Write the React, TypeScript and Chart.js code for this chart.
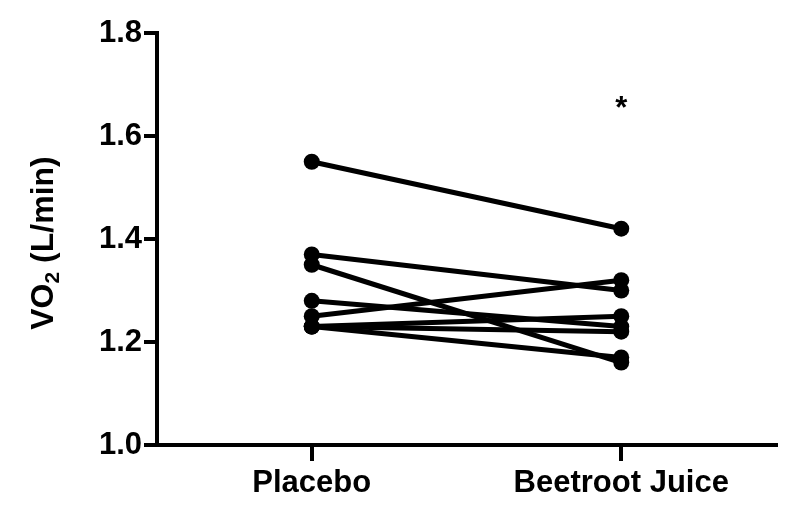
import React, { useEffect, useRef } from "react";
import { Chart, registerables } from "chart.js";

Chart.register(...registerables);

const categories = ["Placebo", "Beetroot Juice"];
const placebo = [1.55, 1.37, 1.35, 1.25, 1.28, 1.23, 1.23, 1.23];
const beetroot = [1.42, 1.3, 1.16, 1.32, 1.23, 1.25, 1.22, 1.17];
const yTicks = [1.0, 1.2, 1.4, 1.6, 1.8];
const significance = { category: "Beetroot Juice", value: 1.665, mark: "*" };
const yTitleMain = "VO";
const yTitleSub = "2";
const yTitleRest = " (L/min)";

const FONT = "'Liberation Sans', Arial, Helvetica, sans-serif";

export default function App() {
  const ref = useRef<HTMLCanvasElement | null>(null);

  useEffect(() => {
    const canvas = ref.current;
    if (!canvas) return;

    const overlay = {
      id: "overlay",
      afterDraw(chart: any) {
        const ctx = chart.ctx;
        const xs = chart.scales.x;
        const ys = chart.scales.y;
        // significance asterisk
        ctx.save();
        ctx.fillStyle = "#000";
        ctx.font = `bold 31px ${FONT}`;
        ctx.textAlign = "center";
        ctx.textBaseline = "middle";
        const idx = categories.indexOf(significance.category);
        ctx.fillText(
          significance.mark,
          xs.getPixelForValue(idx),
          ys.getPixelForValue(significance.value) + 7
        );
        ctx.restore();

        // y-axis title with subscript
        ctx.save();
        const cy = (ys.getPixelForValue(1.0) + ys.getPixelForValue(1.8)) / 2 + 4;
        ctx.translate(44, cy);
        ctx.rotate(-Math.PI / 2);
        ctx.fillStyle = "#000";
        ctx.textBaseline = "middle";
        ctx.textAlign = "left";
        const big = `bold 32px ${FONT}`;
        const small = `bold 21px ${FONT}`;
        ctx.font = big;
        const w1 = ctx.measureText(yTitleMain).width;
        const w3 = ctx.measureText(yTitleRest).width;
        ctx.font = small;
        const w2 = ctx.measureText(yTitleSub).width;
        const total = w1 + w2 + w3;
        let x = -total / 2;
        ctx.font = big;
        ctx.fillText(yTitleMain, x, 0);
        x += w1;
        ctx.font = small;
        ctx.fillText(yTitleSub, x, 9);
        x += w2;
        ctx.font = big;
        ctx.fillText(yTitleRest, x, 0);
        ctx.restore();
      },
    };

    const datasets = placebo.map((p, i) => ({
      label: `Subject ${i + 1}`,
      data: [p, beetroot[i]],
      borderColor: "#000",
      backgroundColor: "#000",
      borderWidth: 5,
      pointRadius: 8,
      pointHoverRadius: 8,
      pointBorderWidth: 0,
      pointBackgroundColor: "#000",
      tension: 0,
    }));

    const chart = new Chart(canvas, {
      type: "line",
      data: { labels: categories, datasets },
      options: {
        animation: false,
        responsive: false,
        maintainAspectRatio: false,
        layout: { padding: { left: 0, right: 15, top: 33, bottom: 0 } },
        plugins: {
          legend: { display: false },
          tooltip: { enabled: false },
          title: { display: false },
        },
        scales: {
          x: {
            type: "category",
            offset: true,
            border: { display: true, color: "#000", width: 4 },
            grid: {
              display: true,
              drawOnChartArea: false,
              drawTicks: true,
              tickLength: 16,
              lineWidth: 4,
              color: "#000",
              offset: false,
            },
            ticks: {
              color: "#000",
              padding: 4,
              font: { family: FONT, size: 31, weight: "bold" },
            },
            afterFit(scale: any) {
              scale.height = 67;
            },
          },
          y: {
            min: 1.0,
            max: 1.8,
            afterBuildTicks(scale: any) {
              scale.ticks = yTicks.map((v) => ({ value: v }));
            },
            border: { display: true, color: "#000", width: 4 },
            grid: {
              display: true,
              drawOnChartArea: false,
              drawTicks: true,
              tickLength: 13,
              lineWidth: 4,
              color: "#000",
            },
            ticks: {
              color: "#000",
              padding: 2,
              font: { family: FONT, size: 31, weight: "bold" },
              callback: (v: any) => Number(v).toFixed(1),
            },
            afterFit(scale: any) {
              scale.width = 157;
            },
          },
        },
      },
      plugins: [overlay],
    });

    return () => chart.destroy();
  }, []);

  return (
    <div style={{ position: "fixed", left: 0, top: 0, width: 791, height: 512, background: "#fff" }}>
      <canvas ref={ref} width={791} height={512} style={{ display: "block" }} />
    </div>
  );
}
